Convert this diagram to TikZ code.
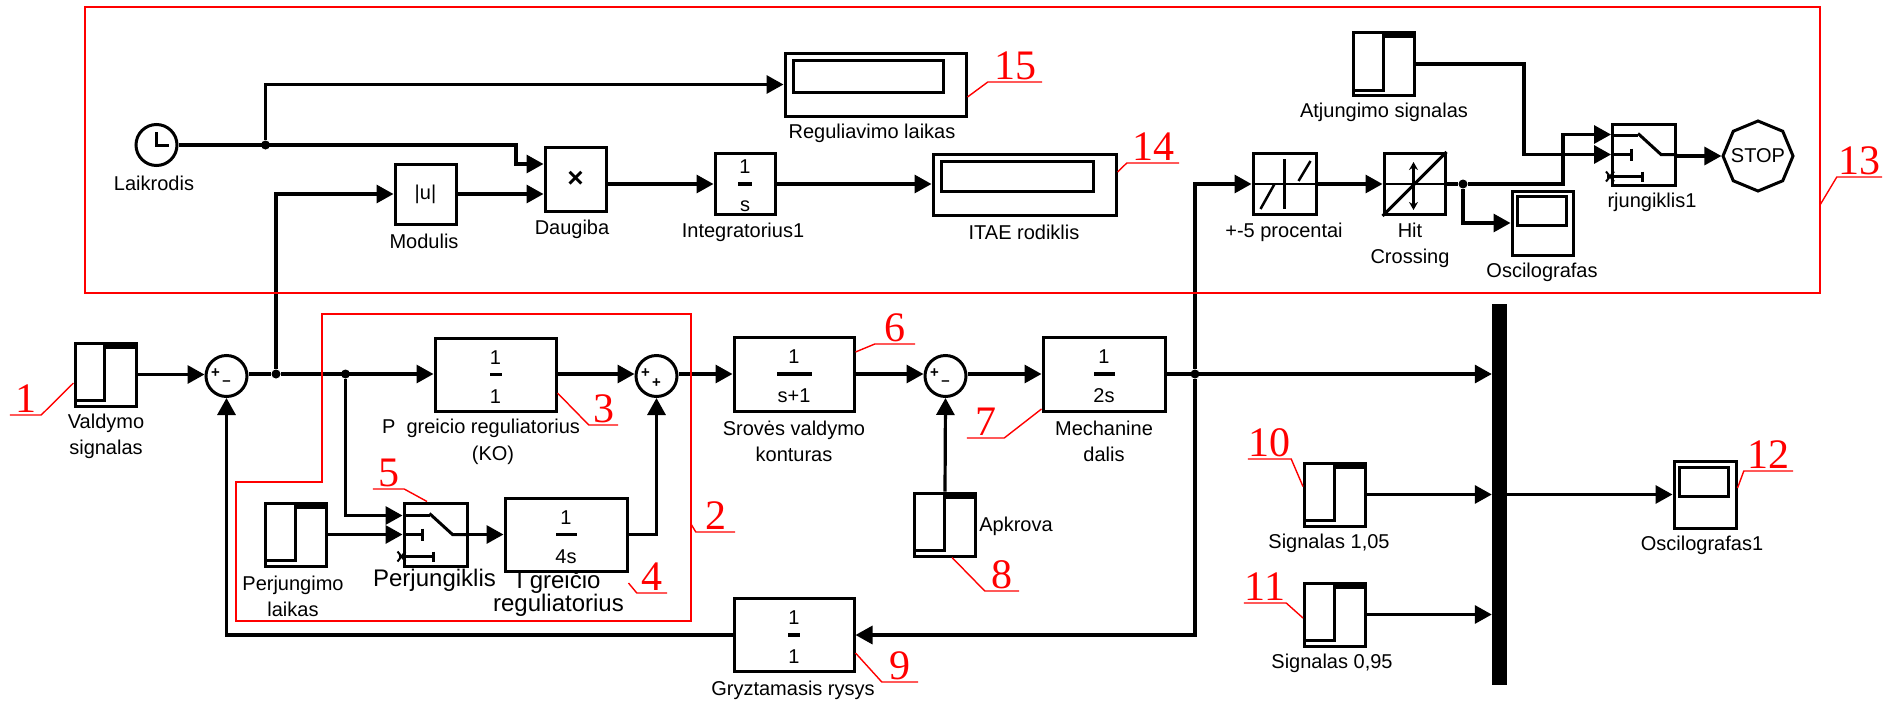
\documentclass[tikz,border=0pt]{standalone}
\usepackage{fontspec}
\setmainfont{Liberation Sans}
\newfontfamily\tagfont{Liberation Serif}
\usetikzlibrary{arrows.meta,shapes.geometric}
\newcommand{\lblfont}{\fontsize{20}{26}\selectfont}
\newcommand{\bigfont}{\fontsize{24}{21}\selectfont}
\newcommand{\tagsize}{\fontsize{42}{42}\selectfont}
\begin{document}
\begin{tikzpicture}[x=1pt, y=-1pt, every node/.style={font=\lblfont},
	blk/.style={draw, line width=3pt, fill=white, inner sep=0pt},
	sgn/.style={blk, minimum width=61pt, minimum height=63pt},
	sumn/.style={blk, circle, minimum size=41pt},
	dot/.style={fill=black, circle, minimum size=9pt, inner sep=0pt},
	sig/.style={line width=3.2pt, -{Triangle[length=17pt,width=18pt]}},
	wire/.style={line width=3.2pt},
	lbl/.style={align=center, inner sep=0pt},
	redline/.style={draw=red, line width=1.8pt},
	leader/.style={draw=red, line width=1.4pt},
	tagnum/.style={anchor=south, text=red, font=\tagfont\tagsize, inner xsep=0pt, inner ysep=2pt}]
	\useasboundingbox (0,0) rectangle (1893,702);
	% steps
	\node[sgn] (sigA) at (105.5,374.5) {};
	\node[sgn] (sigP) at (296,534.5) {};
	\node[sgn] (apk) at (945,524.5) {};
	\node[sgn] (sig10) at (1335,494.5) {};
	\node[sgn] (sig11) at (1335,614.5) {};
	\node[sgn] (sigOff) at (1384,64) {};
	\foreach \s in {sigA,sigP,apk,sig10,sig11,sigOff} {
		\draw[line width=3pt] ([shift={(3,-7)}]\s.south west) -- ([shift={(31,-7)}]\s.south west) -- ([shift={(31,0)}]\s.north west);
		\fill ([shift={(31,0)}]\s.north west) rectangle ([shift={(0,7)}]\s.north east);
	}
	% transfer functions
	\node[blk, minimum width=121pt, minimum height=73pt] (P) at (495.5,374.5) {};
	\node[blk, minimum width=120pt, minimum height=74pt] (Srove) at (794,374) {};
	\node[blk, minimum width=122pt, minimum height=74pt] (Mech) at (1104,374) {};
	\node[blk, minimum width=122pt, minimum height=73pt] (Iblk) at (566,534.5) {};
	\node[blk, minimum width=120pt, minimum height=73pt] (Fb) at (794,635) {};
	\node[blk, minimum width=60pt, minimum height=61pt] (Int) at (745,184) {};
	\foreach \g/\n/\d/\w in {P/1/1/12,Srove/1/s+1/35,Mech/1/2s/21,Iblk/1/4s/21,Fb/1/1/12,Int/1/s/14} {
		\node (\g n) at ([shift={(0,-17)}]\g.center) {\n};
		\node (\g d) at ([shift={(0,22)}]\g.center) {\d};
		\fill ([shift={(-\w/2,-1.75)}]\g.center) rectangle ([shift={(\w/2,1.75)}]\g.center);
	}
	% sums
	\node[sumn] (sum1) at (226.5,376) {};
	\node[sumn] (sum2) at (656.5,376) {};
	\node[sumn] (sum3) at (945.5,376) {};
	\foreach \s/\a/\b in {sum1/+/--,sum2/+/+,sum3/+/--} {
		\node[font=\fontsize{15}{15}\selectfont\bfseries, inner sep=0pt] (\s a) at ([shift={(-11,-3)}]\s.center) {\a};
		\node[font=\fontsize{15}{15}\selectfont\bfseries, inner sep=0pt] (\s b) at ([shift={(0,7)}]\s.center) {\b};
	}
	% top row
	\node[blk, circle, minimum size=41pt] (clk) at (156.5,145) {};
	\draw[line width=3pt] ([shift={(0,-13)}]clk.center) -- (clk.center) -- ([shift={(12,0)}]clk.center);
	\node[blk, minimum width=61pt, minimum height=60pt] (Mod) at (425.5,194) {|u|};
	\node[blk, minimum width=61pt, minimum height=64pt, font=\fontsize{28}{28}\selectfont\bfseries] (mult) at (575.5,179) {×};
	\node[blk, minimum width=181pt, minimum height=63pt] (disp15) at (875.5,84.5) {};
	\node[blk, minimum width=183pt, minimum height=61pt] (itae) at (1024.5,184.5) {};
	\foreach \s in {disp15,itae} {\draw[line width=3pt] ([shift={(10,9)}]\s.north west) rectangle ([shift={(-24,-25)}]\s.south east);}
	\node[blk, minimum width=63pt, minimum height=61pt] (dz) at (1284.5,184) {};
	\draw[line width=2.5pt] ([shift={(0,-25)}]dz.center) -- ([shift={(0,25)}]dz.center);
	\draw[line width=2.5pt] (dz.west) -- (dz.east);
	\draw[line width=2.5pt] ([shift={(-24,25)}]dz.center) -- ([shift={(-10,0)}]dz.center);
	\draw[line width=2.5pt] ([shift={(14,-3)}]dz.center) -- ([shift={(26,-23)}]dz.center);
	\node[blk, minimum width=61pt, minimum height=61pt] (hit) at (1414.5,184) {};
	\draw[line width=3pt] (hit.south west) -- (hit.north east);
	\draw[line width=2.5pt] (hit.west) -- (hit.east);
	\draw[line width=2.5pt, {Stealth[length=8pt,width=9pt]}-{Stealth[length=8pt,width=9pt]}] ([shift={(-1,-22)}]hit.center) -- ([shift={(-1,26)}]hit.center);
	\node[blk, minimum width=61pt, minimum height=64pt] (osc) at (1542.5,223) {};
	\draw[line width=3pt] ([shift={(7,7)}]osc.north west) rectangle ([shift={(-8,-31)}]osc.south east);
	\node[blk, minimum width=62pt, minimum height=67pt] (osc1) at (1705,494.5) {};
	\draw[line width=3pt] ([shift={(7,8)}]osc1.north west) rectangle ([shift={(-9,-33)}]osc1.south east);
	\node[blk, regular polygon, regular polygon sides=8, shape border rotate=22.5, minimum size=70pt] (stop) at (1758,156) {};
	\node[lbl] (stoptxt) at (stop.center) {STOP};
	% switches
	\node[blk, minimum width=63pt, minimum height=63pt] (sw) at (435.5,534.5) {};
	\node[blk, minimum width=63pt, minimum height=61pt] (rj) at (1644,154.5) {};
	\foreach \s in {sw,rj} {
		\draw[line width=3pt] ([shift={(-6,-21)}]\s.center) -- ([shift={(17,0)}]\s.center) -- (\s.east);
		\draw[line width=3pt] ([shift={(-31,-19)}]\s.center) -- ([shift={(-6,-19)}]\s.center);
		\draw[line width=3pt] (\s.west) -- ([shift={(-13,0)}]\s.center);
		\draw[line width=3pt] ([shift={(-13,-6)}]\s.center) -- ([shift={(-13,6)}]\s.center);
		\draw[line width=3pt] ([shift={(-37,22)}]\s.center) -- ([shift={(-2,22)}]\s.center);
		\draw[line width=3pt] ([shift={(-2,17)}]\s.center) -- ([shift={(-2,27)}]\s.center);
		\draw[line width=2pt] ([shift={(-38,17)}]\s.center) -- ([shift={(-30,27)}]\s.center);
		\draw[line width=2pt] ([shift={(-38,27)}]\s.center) -- ([shift={(-30,17)}]\s.center);
	}
	\node[fill=black, minimum width=15pt, minimum height=381pt, inner sep=0pt] (bus) at (1499.5,494.5) {};
	% junctions
	\node[dot] (j1) at (276,374) {};
	\node[dot] (j2) at (345.5,374) {};
	\node[dot] (j3) at (1195,374) {};
	\node[dot] (j4) at (265.5,145) {};
	\node[dot] (j5) at (1463,184) {};
	\coordinate (kn1) at (516,145);
	\coordinate (kn2) at (1563,184);
	\coordinate (kn3) at (1524,154.5);
	% wires
	\draw[sig] (sigA.east) -- (sum1.west |- sigA);
	\draw[wire] (sum1.east |- j1) -- (j1);
	\draw[sig] (j1) -- (P.west |- j1);
	\draw[sig] (P.east |- j1) -- (sum2.west |- j1);
	\draw[sig] (sum2.east |- j1) -- (Srove.west |- j1);
	\draw[sig] (Srove.east |- j1) -- (sum3.west |- j1);
	\draw[sig] (sum3.east |- j1) -- (Mech.west |- j1);
	\draw[sig] (Mech.east |- j1) -- (bus.west |- j1);
	\draw[sig] (apk.north) -- (sum3.south);
	\draw[sig] (j3) |- (Fb.east);
	\draw[sig] (Fb.west) -| (sum1.south);
	\draw[sig] (j2) |- ([yshift=19pt]sw.west);
	\draw[sig] (sigP) -- (sw);
	\draw[sig] (sw) -- (Iblk);
	\draw[sig] (Iblk.east) -| (sum2.south);
	\draw[sig] (j1) |- (Mod.west);
	\draw[sig] (Mod.east) -- (mult.west |- Mod);
	\draw[sig] (clk) -- (kn1) |- ([yshift=15pt]mult.west);
	\draw[sig] (j4) |- (disp15.west);
	\draw[sig] (mult.east |- Int) -- (Int);
	\draw[sig] (Int) -- (itae.west |- Int);
	\draw[sig] (j3) |- (dz.west);
	\draw[sig] (dz) -- (hit);
	\draw[wire] (hit.east) -- (j5);
	\draw[sig] (j5) |- (osc.west);
	\draw[sig] (j5) -- (kn2) |- ([yshift=20pt]rj.west);
	\draw[sig] (sigOff.east) -| (kn3) -- (rj.west);
	\draw[sig] (rj.east |- stop) -- (stop);
	\draw[sig] (sig10) -- (bus.west |- sig10);
	\draw[sig] (sig11) -- (bus.west |- sig11);
	\draw[sig] (bus.east |- osc1) -- (osc1);
	% labels
	\node[lbl] (lbA) at (106,436) {Valdymo\\signalas};
	\node[lbl] (lbP) at (481,428) {P\ \ greicio reguliatorius};
	\node[lbl] (lbK) at (493,455) {(KO)};
	\node[lbl] (lbL) at (293,596) {Perjungimo\\laikas};
	\node[lbl, font=\bigfont] (lbS) at (434.5,580) {Perjungiklis};
	\node[lbl, font=\bigfont] (lbI) at (558.5,594) {I greičio\\reguliatorius};
	\node[lbl] (lbSr) at (794,441.5) {Srovės valdymo\\konturas};
	\node[lbl] (lbM) at (1104,441.5) {Mechanine\\dalis};
	\node[lbl] (lbAp) at (1016,526) {Apkrova};
	\node[lbl] (lbF) at (793,690) {Gryztamasis rysys};
	\node[lbl] (lb10) at (1329,543) {Signalas 1,05};
	\node[lbl] (lb11) at (1332,663) {Signalas 0,95};
	\node[lbl] (lbO1) at (1702,545) {Oscilografas1};
	\node[lbl] (lbClk) at (154,183) {Laikrodis};
	\node[lbl] (lbMod) at (424,241) {Modulis};
	\node[lbl] (lbMul) at (572,229) {Daugiba};
	\node[lbl] (lbInt) at (743,232) {Integratorius1};
	\node[lbl] (lb15) at (872,133) {Reguliavimo laikas};
	\node[lbl] (lb14) at (1024,232) {ITAE rodiklis};
	\node[lbl] (lbOff) at (1384,112) {Atjungimo signalas};
	\node[lbl] (lbDz) at (1284,232) {+-5 procentai};
	\node[lbl] (lbHit) at (1410,245.5) {Hit\\Crossing};
	\node[lbl] (lbOsc) at (1542,272) {Oscilografas};
	\node[lbl] (lbRj) at (1652,202) {rjungiklis1};
	% red frames
	\draw[redline] (85,7) rectangle (1820,293);
	\draw[redline] (322,314) -- (691,314) -- (691,621) -- (236,621) -- (236,482) -- (322,482) -- cycle;
	\coordinate (box2e) at (691,524);
	\coordinate (box13e) at (1820,205);
	% numbers
	\foreach \t/\x/\y/\w in {1/25.5/415/31, 2/715.5/532/39, 3/603.5/425/29, 4/652/593/30, 5/388.5/489/31, 6/895/344/40, 7/985.5/438/37, 8/1002/591/34, 9/900/682/36, 10/1269.5/459/43, 11/1265/603/42, 12/1768.5/471/49, 13/1859.5/177/45, 14/1153/163/52, 15/1015/82/54} {
		\node[tagnum, minimum width=\w pt] (tag\t) at (\x,\y) {\t};
	}
	\draw[leader] (tag1.south west) -- (tag1.south east) -- ([yshift=-8.5pt]sigA.west);
	\draw[leader] (tag2.south east) -- (tag2.south west) -- (box2e);
	\draw[leader] (tag3.south east) -- (tag3.south west) -- ([yshift=-18.5pt]P.east);
	\draw[leader] (tag4.south east) -- (tag4.south west) -- ([yshift=-48.5pt]Iblk.east);
	\draw[leader] (tag5.south west) -- (tag5.south east) -- ([xshift=-8.5pt]sw.north);
	\draw[leader] (tag6.south east) -- (tag6.south west) -- ([yshift=22pt]Srove.east);
	\draw[leader] (tag7.south west) -- (tag7.south east) -- ([yshift=-35pt]Mech.west);
	\draw[leader] (tag8.south east) -- (tag8.south west) -- ([xshift=7pt]apk.south);
	\draw[leader] (tag9.south east) -- (tag9.south west) -- ([yshift=-18pt]Fb.east);
	\draw[leader] (tag10.south west) -- (tag10.south east) -- ([yshift=8pt]sig10.west);
	\draw[leader] (tag11.south west) -- (tag11.south east) -- ([yshift=-3.5pt]sig11.west);
	\draw[leader] (tag12.south east) -- (tag12.south west) -- ([yshift=6.5pt]osc1.east);
	\draw[leader] (tag13.south east) -- (tag13.south west) -- (box13e);
	\draw[leader] (tag14.south east) -- (tag14.south west) -- ([yshift=12.5pt]itae.east);
	\draw[leader] (tag15.south east) -- (tag15.south west) -- ([yshift=-12.5pt]disp15.east);
\end{tikzpicture}
\end{document}
